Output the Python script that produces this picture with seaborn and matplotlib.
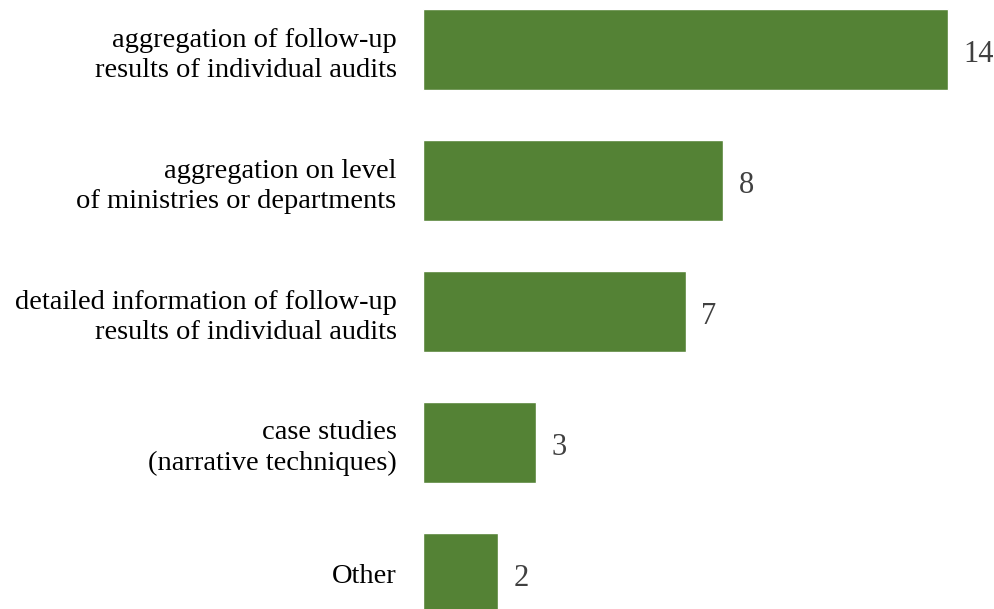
import pandas as pd
import seaborn as sns
import matplotlib.pyplot as plt

# categories and counts
categories = [
    "aggregation of follow-up\nresults of individual audits",
    "aggregation on level\nof ministries or departments",
    "detailed information of follow-up\nresults of individual audits",
    "case studies\n(narrative techniques)",
    "Other",
]
counts = [14, 8, 7, 3, 2]

barColor = "#548235"

df = pd.DataFrame({"category": categories, "count": counts})

sns.set_style("white")
plt.rcParams['font.family'] = ['Liberation Serif', 'DejaVu Serif']

fig = plt.figure(figsize=(9.95, 6.09), dpi=100)
ax = fig.add_axes([423 / 995, 0, 1 - 423 / 995, 1])

sns.barplot(data=df, x="count", y="category", color=barColor, saturation=1,
            width=0.62, ax=ax, orient="h")

ax.set_xlim(0, (995 - 423) / 37.5)
ax.set_ylim(4.271, -0.378)

for i, v in enumerate(counts):
    ax.text(v + 0.42, i + 0.04, str(v), va="center", ha="left",
            fontsize=22, color="#404040")

ax.set_xlabel("")
ax.set_ylabel("")
ax.set_xticks([])
ax.tick_params(axis="y", length=0, pad=19, labelsize=20.5)
for lbl in ax.get_yticklabels():
    lbl.set_color("black")
    lbl.set_linespacing(1.3)
sns.despine(ax=ax, left=True, bottom=True)

plt.savefig("out.png", dpi=100)
